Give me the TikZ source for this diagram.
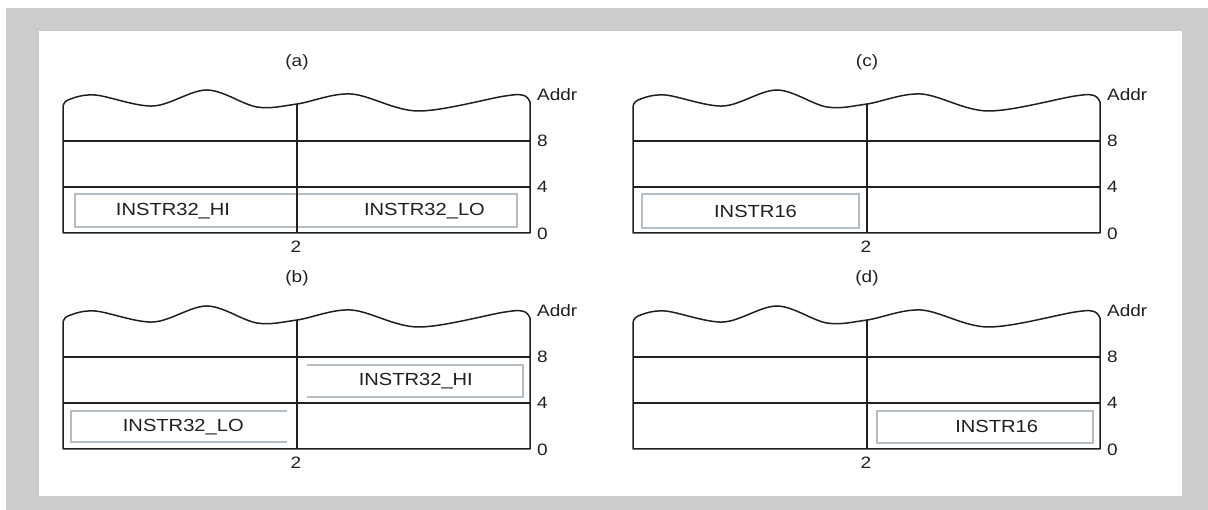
\documentclass[tikz,border=0pt]{standalone}
\usepackage{fontspec}
\setmainfont[FakeStretch=1.15]{Liberation Sans}
\definecolor{framegray}{RGB}{204,204,204}
\definecolor{inkline}{RGB}{35,31,32}
\definecolor{boxgray}{RGB}{180,188,196}
\tikzset{
  memline/.style={draw=inkline, line width=1.5pt, line join=round},
  instrbox/.style={draw=boxgray, line width=2pt},
  instrtext/.style={font=\fontsize{17.5}{19}\selectfont, text=inkline, inner sep=0pt},
  axlabel/.style={font=\fontsize{16.5}{18}\selectfont, text=inkline, inner sep=0pt},
}
\newcommand\mempanel[4]{%
\begin{scope}[xshift=#1pt,yshift=#2pt]
\draw[memline] (63,233) -- plot[smooth,tension=0.55] coordinates {(63,107) (68,100) (95,95) (153,106) (207,90) (257,107) (297,104) (351,94) (418,111) (505,96) (524,95.5) (530,102)} -- (530,233) -- cycle;
\draw[memline] (63,141) -- (530,141);
\draw[memline] (63,187) -- (530,187);
\draw[memline] (297,104) -- (297,233);
\node[axlabel, anchor=west] (#3addr) at (537,95) {Addr};
\node[axlabel, anchor=west] (#3e) at (537,141) {8};
\node[axlabel, anchor=west] (#3f) at (537,187) {4};
\node[axlabel, anchor=west] (#3z) at (537,234) {0};
\node[axlabel] (#3two) at (296,247) {2};
\node[axlabel] (#3title) at (297,62) {#4};
\end{scope}}
\begin{document}
\begin{tikzpicture}[x=1pt,y=-1pt]
\useasboundingbox (0,0) rectangle (1208,510);
\fill[framegray] (6,8) rectangle (1208,510);
\fill[white] (39,31) rectangle (1182,496);

% (a)
\draw[instrbox] (75,194) rectangle (517,227);
\node[instrtext] (aHI) at (173,211) {INSTR32\_HI};
\node[instrtext] (aLO) at (424.5,211) {INSTR32\_LO};
\mempanel{0}{0}{pa}{(a)}

% (b)
\begin{scope}[yshift=-216pt]
\draw[instrbox] (306.7,149) -- (522.7,149) -- (522.7,180.7) -- (306.7,180.7);
\node[instrtext] (bHI) at (415.8,165.5) {INSTR32\_HI};
\draw[instrbox] (286.7,195) -- (71,195) -- (71,226.3) -- (286.7,226.3);
\node[instrtext] (bLO) at (183.3,211.5) {INSTR32\_LO};
\end{scope}
\mempanel{0}{-216}{pb}{(b)}

% (c)
\begin{scope}[xshift=570pt]
\draw[instrbox] (72,194) rectangle (289.3,227.7);
\node[instrtext] (c16) at (185.5,211) {INSTR16};
\end{scope}
\mempanel{570}{0}{pc}{(c)}

% (d)
\begin{scope}[xshift=570pt,yshift=-216pt]
\draw[instrbox] (306.7,194.7) rectangle (522.7,227.3);
\node[instrtext] (d16) at (426.7,210.5) {INSTR16};
\end{scope}
\mempanel{570}{-216}{pd}{(d)}
\end{tikzpicture}
\end{document}
